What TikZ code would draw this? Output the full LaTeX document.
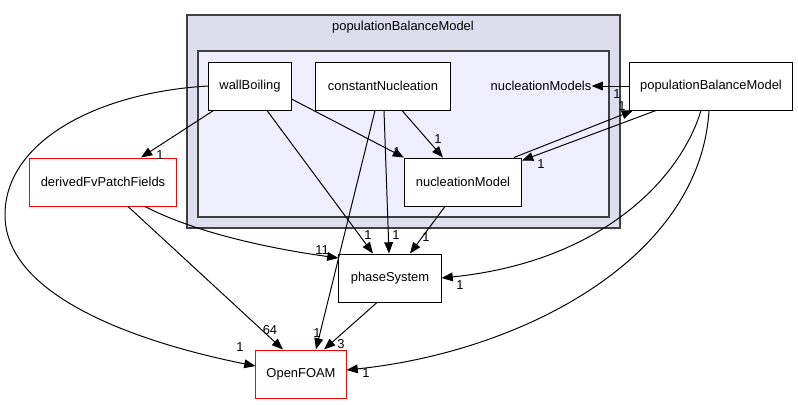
\documentclass[tikz,border=0pt]{standalone}
\usepackage{fontspec}
\setmainfont{Liberation Sans}
\usetikzlibrary{arrows.meta,positioning,calc}

\definecolor{outerfill}{HTML}{DDDDEE}
\definecolor{innerfill}{HTML}{EEEEFF}
\definecolor{clusterline}{HTML}{404040}

\begin{document}
\begin{tikzpicture}[
  x=0.025cm, y=-0.025cm,
  font=\fontsize{9.2}{11}\selectfont,
  >={Triangle[length=8pt,width=6.2pt]},
  box/.style={draw, fill=white, line width=0.7pt, minimum height=1.2cm, inner sep=0pt},
  redbox/.style={box, draw=red},
  lbl/.style={inner sep=0pt, font=\fontsize{9.2}{11}\selectfont},
  arr/.style={->, line width=0.7pt}
]
\useasboundingbox (0,0) rectangle (798,404);

% clusters
\draw[clusterline, fill=outerfill, line width=1.4pt] (187,15) rectangle (620,228);
\node[lbl] (pbmtitle) at (403,27) {populationBalanceModel};
\draw[clusterline, fill=innerfill, line width=1.4pt] (198,51) rectangle (609,217);
\node[lbl] (nmlbl) at (541,86) {nucleationModels};

% nodes
\node[box, minimum width=2.05cm] (wb) at (250,86) {wallBoiling};
\node[box, minimum width=3.375cm] (cn) at (383,86) {constantNucleation};
\node[box, minimum width=2.925cm] (nm) at (463,182) {nucleationModel};
\node[box, minimum width=4.075cm] (pbm) at (711,86) {populationBalanceModel};
\node[redbox, minimum width=3.675cm] (dfp) at (103,182) {derivedFvPatchFields};
\node[box, minimum width=2.55cm] (ps) at (390,278) {phaseSystem};
\node[redbox, minimum width=2.25cm] (of) at (301,374) {OpenFOAM};

% edges from populationBalanceModel
\draw[arr] (pbm.west) -- (nmlbl.east) node[lbl] at (617,94) {1};
\draw[arr] ($(nm.north east)+(-8,0)$) -- ($(pbm.south west)+(4,0)$) node[lbl] at (622,106) {1};
\draw[arr] ($(pbm.south west)+(27,0)$) -- ($(nm.north east)+(0,3)$) node[lbl] at (541,164) {1};
\draw[arr] ($(pbm.south)+(-10,0)$) .. controls (680,180) and (600,262) .. (ps.east) node[lbl] at (460,285) {1};
\draw[arr] ($(pbm.south)+(-2,0)$) .. controls (700,260) and (520,352) .. ($(of.east)+(0,-4)$) node[lbl] at (366,373) {1};

% edges from wallBoiling
\draw[arr] ($(wb.south west)+(5,0)$) -- ($(dfp.north)+(38,0)$) node[lbl] at (160,155) {1};
\draw[arr] ($(wb.east)+(0,13)$) -- ($(nm.north west)+(0,0)$) node[lbl] at (397,152) {1};
\draw[arr] ($(wb.south)+(17,0)$) -- ($(ps.north)+(-17,0)$) node[lbl] at (368,235) {1};
\draw[arr] (wb.west) .. controls (100,92) and (5,140) .. (5,215)
  .. controls (5,300) and (150,345) .. ($(of.west)+(0,-8)$) node[lbl] at (240,347) {1};

% edges from constantNucleation
\draw[arr] ($(cn.south)+(19,0)$) -- ($(nm.north)+(-20,0)$) node[lbl] at (438,139) {1};
\draw[arr] ($(cn.south)+(1,0)$) -- ($(ps.north)+(-1,0)$) node[lbl] at (396,235) {1};
\draw[arr] ($(cn.south)+(-8,0)$) -- ($(of.north)+(15,0)$) node[lbl] at (317,333) {1};

% remaining edges
\draw[arr] ($(nm.south)+(-18,0)$) -- ($(ps.north)+(20,0)$) node[lbl] at (426,237) {1};
\draw[arr] ($(dfp.south)+(42,0)$) .. controls (200,235) and (280,250) .. ($(ps.west)+(0,-20)$) node[lbl] at (322,250) {11};
\draw[arr] ($(dfp.south)+(25,0)$) -- ($(of.north)+(-18,0)$) node[lbl] at (270,330) {64};
\draw[arr] ($(ps.south)+(-13,0)$) -- ($(of.north)+(23,0)$) node[lbl] at (341,344) {3};

\end{tikzpicture}
\end{document}
